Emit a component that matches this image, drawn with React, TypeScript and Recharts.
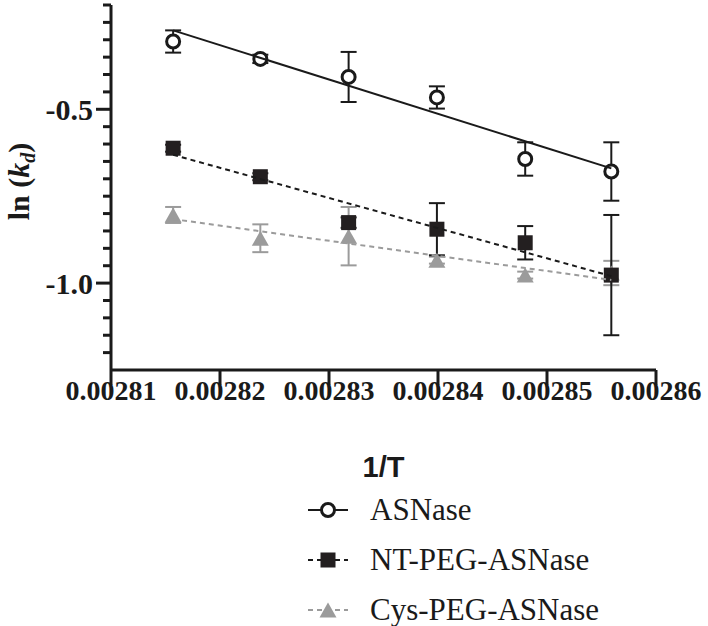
import React from "react";
import { ScatterChart, Scatter, XAxis, YAxis, ErrorBar, Legend } from "recharts";

// 1/T for 82..77 °C
const invTemp = [0.0028157, 0.0028237, 0.0028318, 0.0028399, 0.002848, 0.0028559];

const asnase = [-0.305, -0.355, -0.407, -0.466, -0.643, -0.679];
const asnaseErr = [0.032, 0.012, 0.072, 0.032, 0.048, 0.084];
const ntPeg = [-0.612, -0.694, -0.826, -0.845, -0.884, -0.977];
const ntPegErr = [0.01, 0.01, 0.015, 0.075, 0.048, 0.173];
const cysPeg = [-0.804, -0.871, -0.865, -0.934, -0.977, -0.971];
const cysPegErr = [0.023, 0.04, 0.084, 0.01, 0.01, 0.035];

// regression lines, ends
const fitX = [0.0028157, 0.0028559];
const asnaseFit = [-0.273, -0.67];
const ntPegFit = [-0.631, -0.98];
const cysPegFit = [-0.816, -0.991];

const seriesNames = ["ASNase", "NT-PEG-ASNase", "Cys-PEG-ASNase"];

const xTicks = [0.00281, 0.00282, 0.00283, 0.00284, 0.00285, 0.00286];
const yTicks = [
  -1.2, -1.15, -1.1, -1.05, -1.0, -0.95, -0.9, -0.85, -0.8, -0.75, -0.7,
  -0.65, -0.6, -0.55, -0.5, -0.45, -0.4, -0.35, -0.3, -0.25, -0.2,
];
const yLabelled = [-1.0, -0.5];

const toPoints = (ys: number[], errs?: number[]) =>
  invTemp.map((x, i) => ({ x, y: ys[i], err: errs ? errs[i] : 0 }));
const toLine = (ys: number[]) => fitX.map((x, i) => ({ x, y: ys[i] }));

const BLACK = "#1a1a1a";
const GRAY = "#9b9b9b";
const SERIF = "Liberation Serif, Times New Roman, serif";
const SANS = "Liberation Sans, Arial, sans-serif";

const NoShape = () => <g />;

const OpenCircle = (p: any) => (
  <circle cx={p.cx} cy={p.cy} r={6.5} fill="#fff" stroke={BLACK} strokeWidth={3} />
);
const FilledSquare = (p: any) => (
  <rect x={p.cx - 7.5} y={p.cy - 7.5} width={15} height={15} fill="#231f20" />
);
const GrayTriangle = (p: any) => (
  <polygon
    points={`${p.cx},${p.cy - 7.5} ${p.cx - 8.5},${p.cy + 7.5} ${p.cx + 8.5},${p.cy + 7.5}`}
    fill={GRAY}
  />
);

const serifBold = { fontFamily: SERIF, fontWeight: 700 };

const YTick = (props: any) => {
  const { x, y, payload } = props;
  const major = yLabelled.some((v) => Math.abs(v - payload.value) < 1e-6);
  return (
    <g>
      <line x1={x - (major ? 15 : 8)} x2={x} y1={y} y2={y} stroke={BLACK} strokeWidth={3} />
      {major && (
        <text x={x - 18} y={y} dy="0.35em" textAnchor="end" fontSize={30} fill={BLACK} style={serifBold}>
          {payload.value.toFixed(1)}
        </text>
      )}
    </g>
  );
};

const XTick = (props: any) => {
  const { x, y, payload } = props;
  return (
    <g>
      <line x1={x} x2={x} y1={y} y2={y + 15} stroke={BLACK} strokeWidth={3} />
      <text x={x} y={y + 30} textAnchor="middle" fontSize={28} fill={BLACK} style={serifBold}>
        {payload.value.toFixed(5)}
      </text>
    </g>
  );
};

const YTitle = (props: any) => {
  const vb = props.viewBox;
  const cx = vb.x + 29;
  const cy = vb.y + vb.height / 2 - 6;
  return (
    <text
      x={cx}
      y={cy}
      transform={`rotate(-90 ${cx} ${cy})`}
      textAnchor="middle"
      fontSize={30}
      fill={BLACK}
      style={serifBold}
    >
      ln (<tspan fontStyle="italic">k</tspan>
      <tspan fontStyle="italic" fontSize={20} dy={6}>
        d
      </tspan>
      <tspan dy={-6}>)</tspan>
    </text>
  );
};

const XTitle = (props: any) => {
  const vb = props.viewBox;
  return (
    <text
      x={vb.x + vb.width / 2}
      y={vb.y + 107}
      textAnchor="middle"
      fontSize={29}
      fill={BLACK}
      style={{ fontFamily: SANS, fontWeight: 700 }}
    >
      1/T
    </text>
  );
};

const legendStyles = [
  { color: BLACK, dash: undefined, Marker: OpenCircle },
  { color: BLACK, dash: "5 4", Marker: FilledSquare },
  { color: GRAY, dash: "5 4", Marker: GrayTriangle },
];

const renderLegend = () => (
  <div style={{ fontFamily: SERIF, fontSize: 31, color: BLACK }}>
    {seriesNames.map((name, i) => {
      const { color, dash, Marker } = legendStyles[i];
      return (
        <div key={name} style={{ display: "flex", alignItems: "center", height: 50 }}>
          <svg width={44} height={24} style={{ marginRight: 20 }}>
            <line x1={2} x2={42} y1={12} y2={12} stroke={color} strokeWidth={2} strokeDasharray={dash} />
            <Marker cx={22} cy={12} />
          </svg>
          <span>{name}</span>
        </div>
      );
    })}
  </div>
);

export default function App() {
  return (
    <div style={{ position: "absolute", left: 0, top: 0, width: 708, height: 626, background: "#fff" }}>
      <ScatterChart width={708} height={626} margin={{ top: 5, right: 52, bottom: 146, left: 0 }}>
        <XAxis
          type="number"
          dataKey="x"
          domain={[0.00281, 0.00286]}
          ticks={xTicks}
          interval={0}
          height={110}
          tickSize={0}
          tickMargin={0}
          tick={<XTick />}
          axisLine={{ stroke: BLACK, strokeWidth: 3 }}
          label={<XTitle />}
        />
        <YAxis
          type="number"
          dataKey="y"
          domain={[-1.25, -0.2]}
          ticks={yTicks}
          interval={0}
          width={111}
          tickSize={0}
          tickMargin={0}
          tick={<YTick />}
          axisLine={{ stroke: BLACK, strokeWidth: 3 }}
          label={<YTitle />}
        />
        <Legend
          layout="vertical"
          align="center"
          verticalAlign="middle"
          content={renderLegend}
          wrapperStyle={{ left: 306, top: 485, width: 360, height: 150 }}
        />

        <Scatter data={toPoints(cysPeg, cysPegErr)} shape={NoShape} isAnimationActive={false} legendType="none">
          <ErrorBar dataKey="err" direction="y" width={8} stroke={GRAY} strokeWidth={2} isAnimationActive={false} />
        </Scatter>
        <Scatter data={toPoints(cysPeg)} shape={GrayTriangle} isAnimationActive={false} legendType="none" />

        <Scatter data={toPoints(ntPeg, ntPegErr)} shape={NoShape} isAnimationActive={false} legendType="none">
          <ErrorBar dataKey="err" direction="y" width={8} stroke={BLACK} strokeWidth={2} isAnimationActive={false} />
        </Scatter>
        <Scatter data={toPoints(ntPeg)} shape={FilledSquare} isAnimationActive={false} legendType="none" />

        <Scatter data={toPoints(asnase, asnaseErr)} shape={NoShape} isAnimationActive={false} legendType="none">
          <ErrorBar dataKey="err" direction="y" width={8} stroke={BLACK} strokeWidth={2} isAnimationActive={false} />
        </Scatter>
        <Scatter data={toPoints(asnase)} shape={OpenCircle} isAnimationActive={false} legendType="none" />

        <Scatter
          data={toLine(cysPegFit)}
          shape={NoShape}
          line={{ stroke: GRAY, strokeWidth: 2, strokeDasharray: "5 4" }}
          isAnimationActive={false}
          legendType="none"
        />
        <Scatter
          data={toLine(ntPegFit)}
          shape={NoShape}
          line={{ stroke: BLACK, strokeWidth: 2, strokeDasharray: "5 4" }}
          isAnimationActive={false}
          legendType="none"
        />
        <Scatter
          data={toLine(asnaseFit)}
          shape={NoShape}
          line={{ stroke: BLACK, strokeWidth: 2 }}
          isAnimationActive={false}
          legendType="none"
        />
      </ScatterChart>
    </div>
  );
}
